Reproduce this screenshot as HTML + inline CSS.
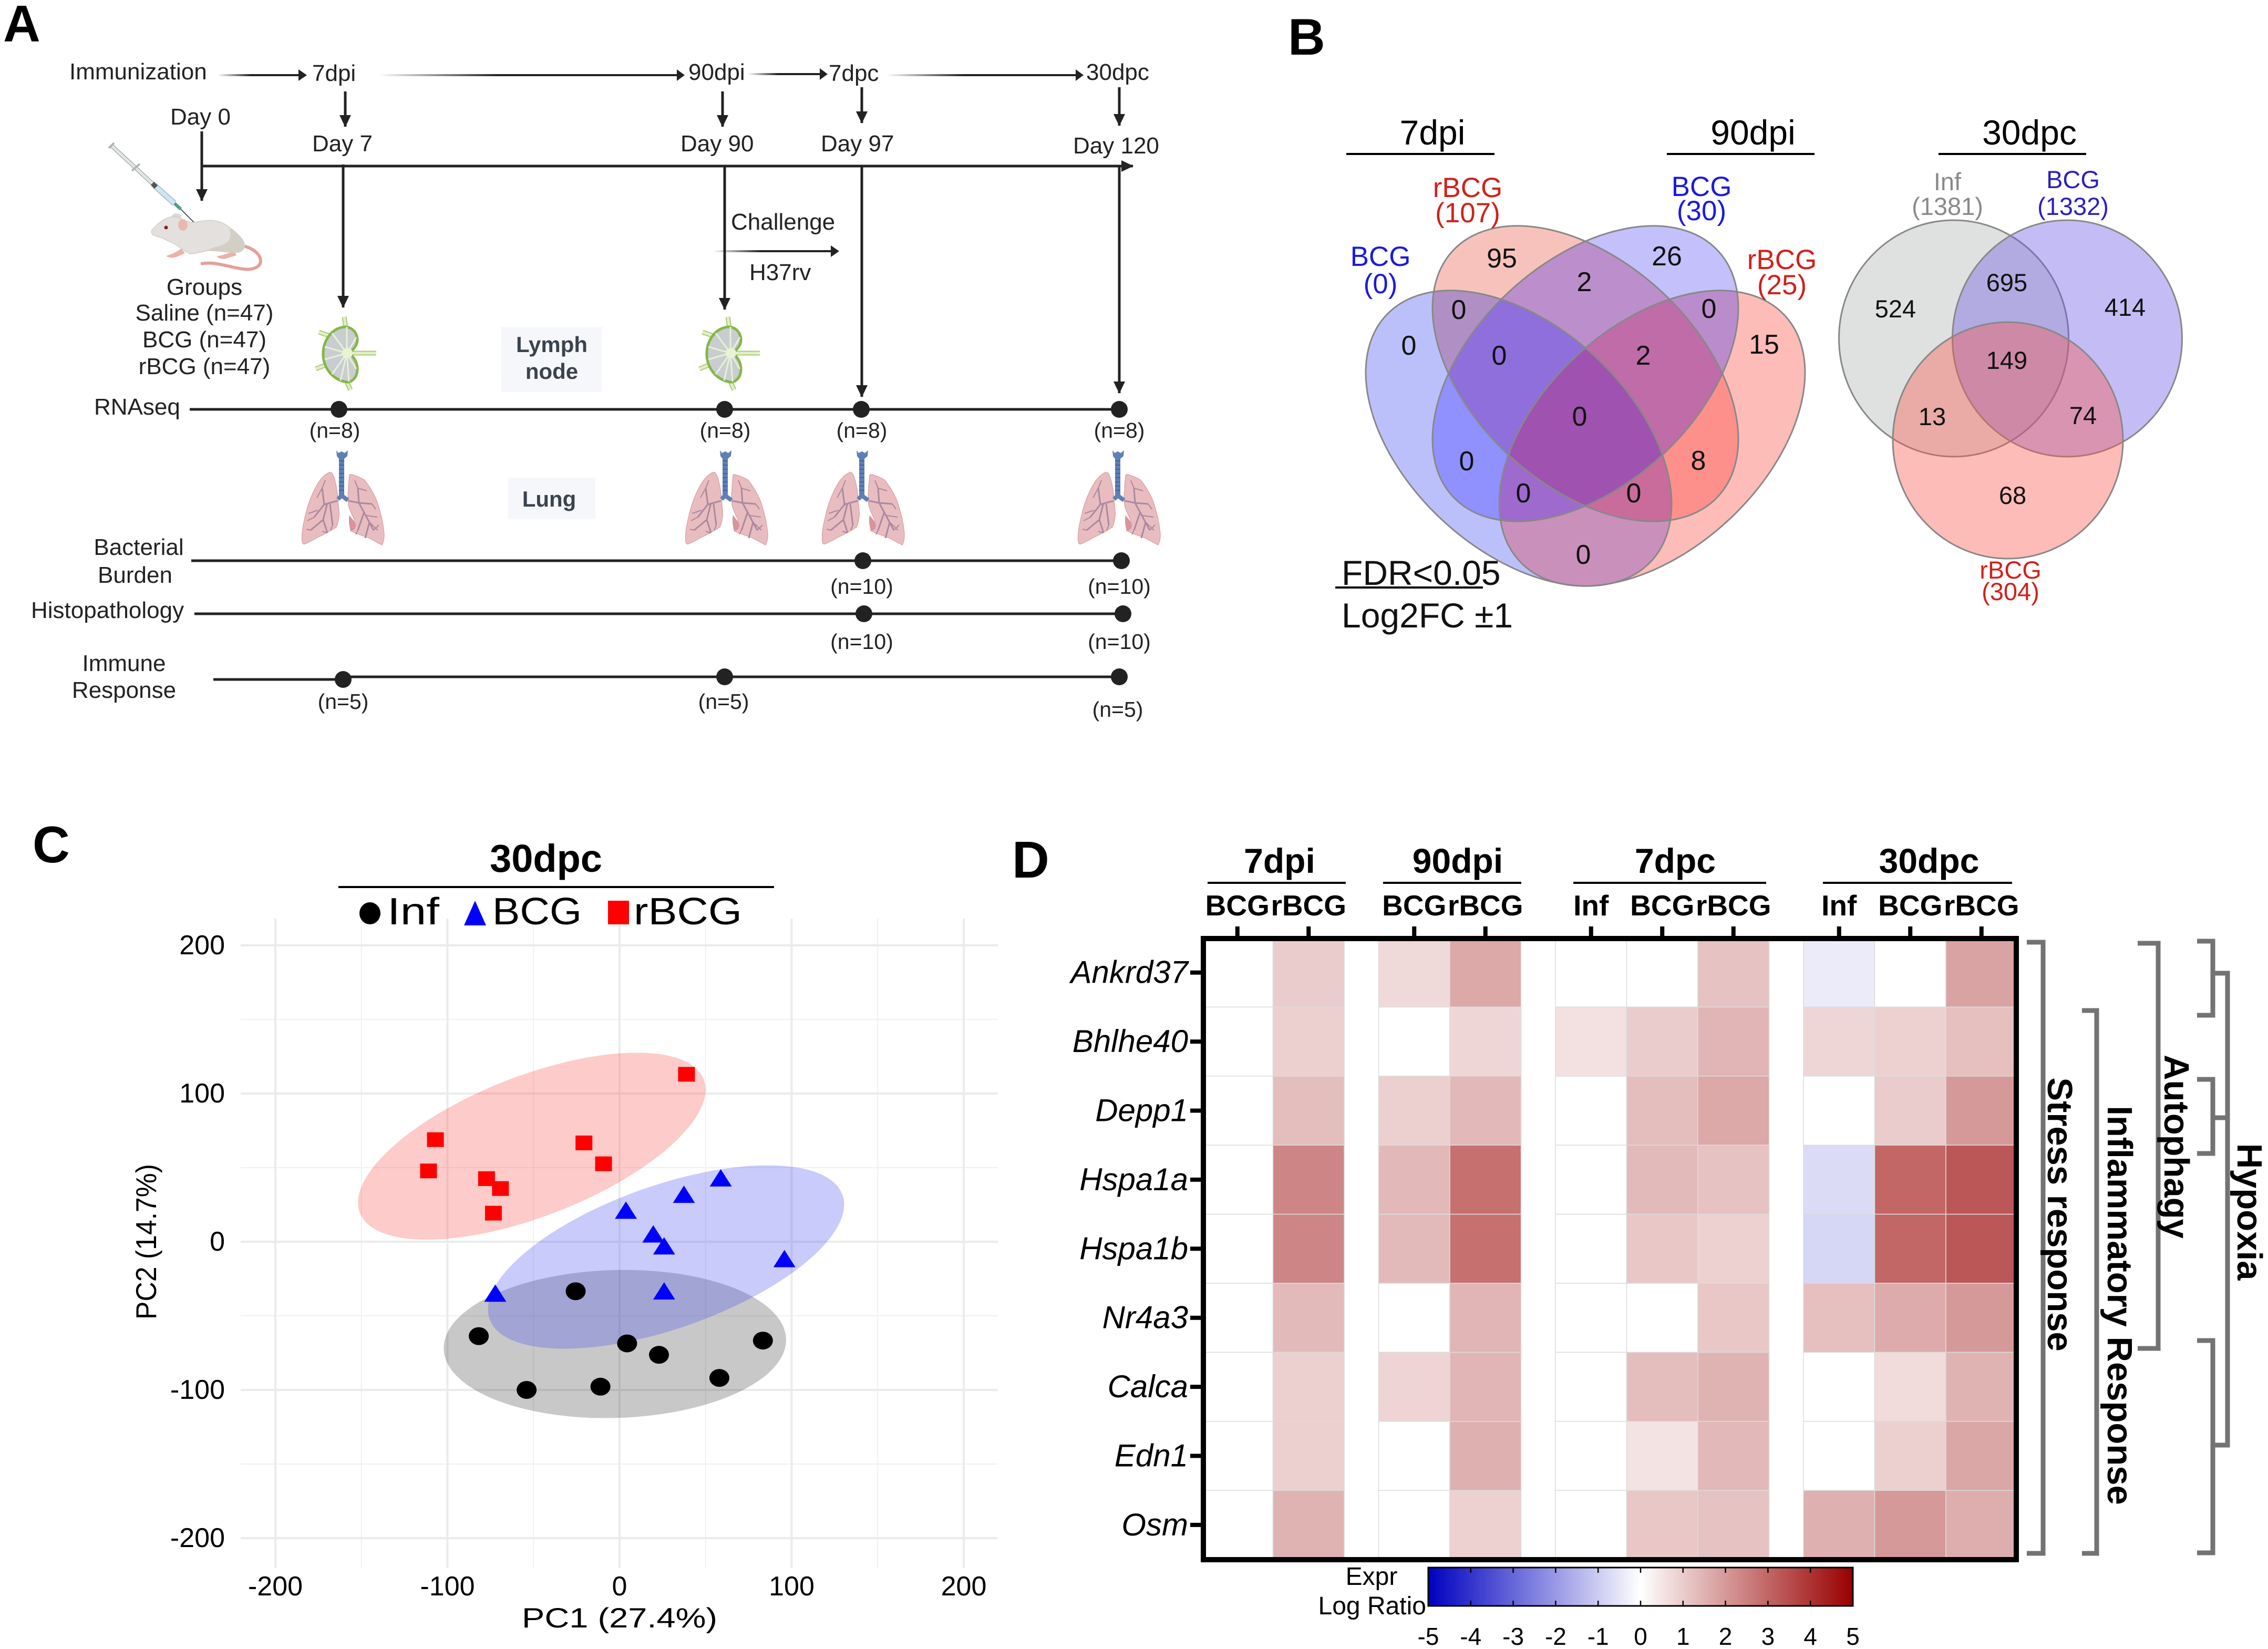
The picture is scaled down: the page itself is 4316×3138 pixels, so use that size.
<!DOCTYPE html>
<html lang="en">
<head>
<meta charset="utf-8">
<title>Immunization study figure</title>
<style>
html,body{margin:0;padding:0;background:#fff;}
svg{display:block;font-family:"Liberation Sans",sans-serif;}
.a{font-size:44px;fill:#222;}
.m{text-anchor:middle;}
.panel{font-size:98px;font-weight:bold;fill:#000;}
.v{font-size:52px;fill:#111;text-anchor:middle;}
.w{font-size:47px;fill:#111;text-anchor:middle;}
.t{font-size:66px;fill:#000;text-anchor:middle;}
.bl{stroke:#222;stroke-width:5;fill:none;}
.h{font-size:66px;font-weight:bold;fill:#000;text-anchor:middle;}
.side{font-size:67px;font-weight:bold;fill:#000;text-anchor:middle;}
.br{stroke:#737373;stroke-width:9;fill:none;}
</style>
</head>
<body>
<svg xmlns="http://www.w3.org/2000/svg" width="4316" height="3138" viewBox="0 0 4316 3138">
<defs>
<linearGradient id="fade" x1="0" x2="1" y1="0" y2="0"><stop offset="0" stop-color="#222" stop-opacity="0"/><stop offset="0.4" stop-color="#222"/><stop offset="1" stop-color="#222"/></linearGradient>
<linearGradient id="cbar" x1="0" x2="1" y1="0" y2="0"><stop offset="0" stop-color="#0000c0"/><stop offset="0.5" stop-color="#ffffff"/><stop offset="1" stop-color="#990000"/></linearGradient>
<marker id="ah2" markerWidth="26" markerHeight="26" refX="23" refY="13" orient="auto" markerUnits="userSpaceOnUse"><path d="M1,2L24,13L1,24Z" fill="#222"/></marker>
<clipPath id="c1"><ellipse cx="2890" cy="834" rx="344" ry="213" transform="rotate(42.8 2890 834)"/></clipPath>
<clipPath id="c2"><ellipse cx="3017" cy="711" rx="344" ry="213" transform="rotate(42.8 3017 711)"/></clipPath>
<clipPath id="c3"><ellipse cx="3017" cy="711" rx="344" ry="213" transform="rotate(-42.8 3017 711)"/></clipPath>
<clipPath id="c4"><ellipse cx="3144" cy="834" rx="344" ry="213" transform="rotate(-42.8 3144 834)"/></clipPath>
<g id="lung-icon">
<path d="M-26,40C-36,44 -44,54 -50,64C-60,82 -66,98 -70,114C-75,135 -80,155 -78,171C-78,175 -76,177 -73,176C-62,172 -52,165 -43,161C-33,156 -22,150 -13,144C-9,134 -7,124 -8,114C-9,102 -10,92 -11,81C-12,70 -14,62 -16,54C-18,46 -22,38 -26,40Z" fill="#e9bcc0" stroke="#dca6ab" stroke-width="1.5"/>
<path d="M15,44C24,46 33,50 40,54C50,66 58,80 64,94C70,112 75,130 77,148C79,160 78,170 74,178C66,174 56,168 47,164C36,160 24,156 14,151C17,144 20,138 22,131C18,122 12,112 10,101C9,92 9,82 10,74C10,64 11,56 12,48C12,45 13,43 15,44Z" fill="#e9bcc0" stroke="#dca6ab" stroke-width="1.5"/>
<path d="M12,121C16,128 24,134 24,140C24,146 20,152 14,151C11,140 10,130 12,121Z" fill="#d9949b"/>
<path d="M-11,94L-36,101L-55,125M-36,101L-40,70M-30,98L-38,130L-62,150M-38,130L-30,155M-25,100L-20,140M10,94L30,98L58,150M30,98L28,70M30,98L55,100M40,115L28,150M50,135L42,165" stroke="#a98a9e" stroke-width="3" fill="none"/>
<path d="M-40,70L-34,55M-40,70L-50,88M-48,112L-66,118M-55,125L-68,132M-62,150L-70,148M-20,140L-24,150M-30,155L-40,152M28,70L22,55M28,70L45,75M44,122L65,125M55,100L62,110M58,150L68,140M28,150L24,158M50,135L66,150" stroke="#a98a9e" stroke-width="2" fill="none"/>
<path d="M-13,-2L-9,3L-3,0L3,3L9,-2L8,9L2,14H-8L-12,9Z" fill="#5f80b5"/>
<rect x="-8" y="11" width="10" height="73" fill="#5f80b5"/>
<path d="M-8,18H2M-8,26H2M-8,34H2M-8,42H2M-8,50H2M-8,58H2M-8,66H2M-8,74H2" stroke="#3f5d90" stroke-width="1.5"/>
<path d="M-3,84L-10,91M-3,84L9,93" stroke="#5f80b5" stroke-width="8"/>
</g>
<g id="node-icon">
<path d="M-1,-69L2,-48M11,70L2,50M-49,-40L-26,-32M-55,30L-30,20M6,0L60,0" stroke="#a8cc70" stroke-width="9" fill="none"/>
<path d="M-1,-69L2,-48M11,70L2,50M-49,-40L-26,-32M-55,30L-30,20M6,0L60,0" stroke="#e2efc9" stroke-width="5" fill="none"/>
<path d="M2,-50C20,-48 28,-30 22,-16C18,-8 12,-4 10,0C14,6 24,14 24,30C24,48 12,56 4,55C-22,52 -42,28 -41,0C-41,-26 -22,-50 2,-50Z" fill="#c9cdcf" stroke="#84b64c" stroke-width="5"/>
<path d="M4,0L4,-50M4,0L-24,-38M4,0L-38,-12M4,0L-38,12M4,0L-24,40M4,0L-8,52M4,0L8,54M4,0L22,-30M4,0L22,30" stroke="#e6f0d8" stroke-width="3"/>
<circle cx="5" cy="0" r="10" fill="#e8f3d3"/>
</g>
</defs>

<!-- PANEL A -->
<g>
<text class="panel" x="6" y="79">A</text>
<text class="a" x="132" y="151">Immunization</text>
<rect x="414" y="141" width="160" height="4" fill="url(#fade)"/>
<path d="M568,132L584,143L568,154Z" fill="#222"/>
<text class="a" x="594" y="154">7dpi</text>
<rect x="719" y="141" width="575" height="4" fill="url(#fade)"/>
<path d="M1288,132L1303,143L1288,154Z" fill="#222"/>
<text class="a" x="1310" y="152">90dpi</text>
<rect x="1423" y="139" width="145" height="4" fill="url(#fade)"/>
<path d="M1560,130L1575,141L1560,152Z" fill="#222"/>
<text class="a" x="1577" y="154">7dpc</text>
<rect x="1687" y="141" width="368" height="4" fill="url(#fade)"/>
<path d="M2047,132L2062,143L2047,154Z" fill="#222"/>
<text class="a" x="2067" y="152">30dpc</text>

<g class="bl">
<path d="M657,174V241" marker-end="url(#ah2)"/><path d="M1375,174V241" marker-end="url(#ah2)"/><path d="M1640,166V234" marker-end="url(#ah2)"/><path d="M2130,166V239" marker-end="url(#ah2)"/>
</g>
<text class="a" x="324" y="237">Day 0</text>
<text class="a" x="594" y="288">Day 7</text>
<text class="a" x="1295" y="288">Day 90</text>
<text class="a" x="1562" y="288">Day 97</text>
<text class="a" x="2042" y="292">Day 120</text>

<path class="bl" d="M384,316H2156" marker-end="url(#ah2)"/>
<path class="bl" d="M384,250V382" marker-end="url(#ah2)"/>
<path class="bl" d="M653,313V585" marker-end="url(#ah2)"/>
<path class="bl" d="M1379,316V589" marker-end="url(#ah2)"/>
<path class="bl" d="M1640,316V755" marker-end="url(#ah2)"/>
<path class="bl" d="M2130,316V748" marker-end="url(#ah2)"/>

<text class="a" x="1391" y="437">Challenge</text>
<rect x="1357" y="476" width="230" height="4" fill="url(#fade)"/>
<path d="M1581,467L1597,478L1581,489Z" fill="#222"/>
<text class="a" x="1426" y="533">H37rv</text>

<g>
<path d="M212,277L294,353" stroke="#a9adad" stroke-width="8"/>
<path d="M212,277L294,353" stroke="#e4e6e6" stroke-width="5"/>
<path d="M207,282L217,272M251,325L266,312" stroke="#b0b4b4" stroke-width="4"/>
<path d="M294,353L332,387" stroke="#9db8c8" stroke-width="11"/>
<path d="M294,353L332,387" stroke="#cfe6f2" stroke-width="8"/>
<path d="M290,349L297,356" stroke="#555" stroke-width="9"/>
<path d="M332,387L344,398" stroke="#4a9e8c" stroke-width="6"/>
<path d="M344,398L369,423" stroke="#444" stroke-width="1.8"/>
</g>
<g>
<path d="M462,468C482,472 496,484 496,498C494,510 478,514 464,512C445,510 425,503 405,501C395,500 388,501 382,502" stroke="#e3a09a" stroke-width="6" fill="none"/>
<path d="M316,487C326,484 336,480 345,473L352,482L338,488C330,492 322,491 316,487Z" fill="#eab2a8"/>
<path d="M412,488C422,486 436,482 446,477L450,486L430,492C424,494 416,492 412,488Z" fill="#eab2a8"/>
<ellipse cx="336" cy="412" rx="9" ry="6" fill="#ddd9d2"/>
<path d="M289,438C296,430 304,422 312,418C322,412 332,410 345,416C352,420 360,424 369,423C382,421 396,418 409,420C420,422 430,427 437,433C448,441 456,448 462,457C466,464 466,470 464,473C460,479 454,481 448,480C430,481 412,476 394,477C384,479 372,483 362,483C352,479 344,472 337,467C328,462 318,458 309,453C302,451 296,449 291,447C288,444 288,441 289,438Z" fill="#e3e0de" stroke="#d2cec6" stroke-width="1.5"/>
<path d="M437,433C448,441 456,448 462,457C466,464 466,470 464,473C460,479 454,481 448,480C430,481 412,476 394,477C405,468 425,470 435,458C440,450 438,440 437,433Z" fill="#d3cfc4"/>
<ellipse cx="348" cy="428" rx="9" ry="11" fill="#e8b9ae"/>
<circle cx="316" cy="433" r="3.5" fill="#8e1c1c"/>
</g>
<g class="a m">
<text x="389" y="561">Groups</text>
<text x="389" y="610">Saline (n=47)</text>
<text x="389" y="661">BCG (n=47)</text>
<text x="389" y="712">rBCG (n=47)</text>
</g>

<use href="#node-icon" x="656" y="672"/>
<use href="#node-icon" x="1386" y="672"/>
<rect x="954" y="622" width="192" height="124" fill="#f5f7fb"/>
<text class="a m" x="1050" y="670" style="font-weight:bold;fill:#3a4350;font-size:42px">Lymph</text>
<text class="a m" x="1050" y="721" style="font-weight:bold;fill:#3a4350;font-size:42px">node</text>

<text class="a" x="179" y="789">RNAseq</text>
<path class="bl" d="M361,779H2130"/>
<g fill="#222"><circle cx="645" cy="779" r="16"/><circle cx="1379" cy="779" r="16"/><circle cx="1639" cy="779" r="16"/><circle cx="2130" cy="779" r="16"/></g>
<g class="a m" style="font-size:41px"><text x="637" y="833">(n=8)</text><text x="1380" y="833">(n=8)</text><text x="1640" y="833">(n=8)</text><text x="2130" y="833">(n=8)</text></g>

<use href="#lung-icon" x="653" y="859"/>
<use href="#lung-icon" x="1383" y="859"/>
<use href="#lung-icon" x="1643" y="859"/>
<use href="#lung-icon" x="2130" y="859"/>
<rect x="967" y="909" width="166" height="79" fill="#f5f7fb"/>
<text class="a m" x="1045" y="964" style="font-weight:bold;fill:#3a4350;font-size:42px">Lung</text>

<text class="a m" x="264" y="1056">Bacterial</text>
<text class="a m" x="257" y="1109">Burden</text>
<path class="bl" d="M364,1067H2134"/>
<g fill="#222"><circle cx="1642" cy="1067" r="16"/><circle cx="2134" cy="1067" r="16"/></g>
<g class="a m" style="font-size:41px"><text x="1640" y="1130">(n=10)</text><text x="2130" y="1130">(n=10)</text></g>

<text class="a" x="59" y="1176">Histopathology</text>
<path class="bl" d="M370,1168H2137"/>
<g fill="#222"><circle cx="1644" cy="1168" r="16"/><circle cx="2137" cy="1168" r="16"/></g>
<g class="a m" style="font-size:41px"><text x="1640" y="1235">(n=10)</text><text x="2130" y="1235">(n=10)</text></g>

<text class="a m" x="236" y="1277">Immune</text>
<text class="a m" x="236" y="1328">Response</text>
<path class="bl" d="M406,1293H653M653,1288H2130"/>
<g fill="#222"><circle cx="653" cy="1293" r="16"/><circle cx="1379" cy="1288" r="16"/><circle cx="2130" cy="1288" r="16"/></g>
<g class="a m" style="font-size:41px"><text x="653" y="1349">(n=5)</text><text x="1377" y="1349">(n=5)</text><text x="2127" y="1364">(n=5)</text></g>
</g>

<!-- PANEL B -->
<g>
<text class="panel" x="2451" y="104">B</text>
<text class="t" x="2726" y="275">7dpi</text>
<text class="t" x="3336" y="275">90dpi</text>
<text class="t" x="3862" y="275">30dpc</text>
<path d="M2562,293H2844M3172,293H3453M3689,293H3970" stroke="#000" stroke-width="4"/>

<g>
<g>
<ellipse cx="2890" cy="834" rx="344" ry="213" transform="rotate(42.8 2890 834)" fill="#bcc0fa"/>
<ellipse cx="3144" cy="834" rx="344" ry="213" transform="rotate(-42.8 3144 834)" fill="#fdbcb8"/>
<ellipse cx="3017" cy="711" rx="344" ry="213" transform="rotate(42.8 3017 711)" fill="#f8c2bc"/>
<ellipse cx="3017" cy="711" rx="344" ry="213" transform="rotate(-42.8 3017 711)" fill="#c3c0fb"/>
</g>
<g>
<g clip-path="url(#c1)"><rect x="2500" y="350" width="1000" height="800" fill="#fff" fill-opacity="0"/>
  <g clip-path="url(#c2)"><rect x="2500" y="350" width="1000" height="800" fill="#b090c4"/></g>
  <g clip-path="url(#c3)"><rect x="2500" y="350" width="1000" height="800" fill="#9090ff"/></g>
  <g clip-path="url(#c4)"><rect x="2500" y="350" width="1000" height="800" fill="#ca90bc"/></g>
</g>
<g clip-path="url(#c2)">
  <g clip-path="url(#c3)"><rect x="2500" y="350" width="1000" height="800" fill="#bc8fcc"/></g>
  <g clip-path="url(#c4)"><rect x="2500" y="350" width="1000" height="800" fill="#fd908a"/></g>
</g>
<g clip-path="url(#c3)"><g clip-path="url(#c4)"><rect x="2500" y="350" width="1000" height="800" fill="#bb8ccb"/></g></g>
<g clip-path="url(#c1)"><g clip-path="url(#c2)"><g clip-path="url(#c3)"><rect x="2500" y="350" width="1000" height="800" fill="#8f6fdb"/></g></g></g>
<g clip-path="url(#c1)"><g clip-path="url(#c2)"><g clip-path="url(#c4)"><rect x="2500" y="350" width="1000" height="800" fill="#c96c9c"/></g></g></g>
<g clip-path="url(#c1)"><g clip-path="url(#c3)"><g clip-path="url(#c4)"><rect x="2500" y="350" width="1000" height="800" fill="#9f6acd"/></g></g></g>
<g clip-path="url(#c2)"><g clip-path="url(#c3)"><g clip-path="url(#c4)"><rect x="2500" y="350" width="1000" height="800" fill="#c06ca8"/></g></g></g>
<g clip-path="url(#c1)"><g clip-path="url(#c2)"><g clip-path="url(#c3)"><g clip-path="url(#c4)"><rect x="2500" y="350" width="1000" height="800" fill="#a052b0"/></g></g></g></g>
</g>
<g fill="none" stroke="#888" stroke-width="3">
<ellipse cx="2890" cy="834" rx="344" ry="213" transform="rotate(42.8 2890 834)"/>
<ellipse cx="3144" cy="834" rx="344" ry="213" transform="rotate(-42.8 3144 834)"/>
<ellipse cx="3017" cy="711" rx="344" ry="213" transform="rotate(42.8 3017 711)"/>
<ellipse cx="3017" cy="711" rx="344" ry="213" transform="rotate(-42.8 3017 711)"/>
</g>
</g>
<g>
<text class="v" x="2858" y="509">95</text><text class="v" x="3172" y="505">26</text><text class="v" x="2681" y="675">0</text><text class="v" x="2776" y="607">0</text><text class="v" x="3015" y="554">2</text><text class="v" x="3252" y="605">0</text><text class="v" x="3357" y="673">15</text><text class="v" x="2853" y="694">0</text><text class="v" x="3127" y="694">2</text><text class="v" x="3006" y="810">0</text><text class="v" x="2791" y="895">0</text><text class="v" x="3232" y="894">8</text><text class="v" x="2899" y="956">0</text><text class="v" x="3109" y="956">0</text><text class="v" x="3013" y="1073">0</text>
</g>
<g style="font-size:53px;text-anchor:middle">
<g fill="#1a1ae0"><text x="2627" y="506">BCG</text><text x="2627" y="558">(0)</text></g>
<g fill="#d2201a"><text x="2793" y="375">rBCG</text><text x="2793" y="423">(107)</text></g>
<g fill="#1a1ae0"><text x="3238" y="373">BCG</text><text x="3238" y="419">(30)</text></g>
<g fill="#d2201a"><text x="3391" y="512">rBCG</text><text x="3391" y="560">(25)</text></g>
</g>

<g stroke="#888" stroke-width="3" fill-opacity="0.4">
<ellipse cx="3718" cy="644" rx="218.5" ry="225" fill="rgb(175,180,177)"/>
<ellipse cx="3934" cy="644" rx="218.5" ry="225" fill="rgb(107,90,230)"/>
<ellipse cx="3821" cy="838" rx="219" ry="225" fill="rgb(250,87,77)"/>
</g>
<g>
<text class="w" x="3607" y="604">524</text><text class="w" x="3819" y="554">695</text><text class="w" x="4044" y="601">414</text><text class="w" x="3819" y="702">149</text><text class="w" x="3677" y="809">13</text><text class="w" x="3964" y="807">74</text><text class="w" x="3830" y="959">68</text>
</g>
<g style="font-size:47px;text-anchor:middle">
<g fill="#8a8a8a"><text x="3706" y="362">Inf</text><text x="3706" y="409">(1381)</text></g>
<g fill="#2a1fc0"><text x="3945" y="358">BCG</text><text x="3945" y="409">(1332)</text></g>
<g fill="#d2201a"><text x="3826" y="1101">rBCG</text><text x="3826" y="1142">(304)</text></g>
</g>
<text x="2553" y="1113" font-size="66" fill="#111">FDR&lt;0.05</text>
<path d="M2541,1118H2822" stroke="#000" stroke-width="4"/>
<text x="2553" y="1194" font-size="66" fill="#111">Log2FC ±1</text>
</g>

<!-- PANEL C -->
<g>
<text class="panel" x="62" y="1641">C</text>
<text x="1039" y="1659" font-size="74" font-weight="bold" text-anchor="middle">30dpc</text>
<path d="M644,1688H1473" stroke="#000" stroke-width="4"/>
<g id="pca-grid"></g>
<g id="pca-ellipses"></g>
<g id="pca-points"></g>
<g id="pca-ticks"></g>
<g>
<ellipse cx="704" cy="1738" rx="20" ry="21" fill="#000"/>
<text x="737" y="1759" font-size="72" textLength="99" lengthAdjust="spacingAndGlyphs">Inf</text>
<path d="M904,1714L925,1761H883Z" fill="#0000ff"/>
<text x="937" y="1759" font-size="72" textLength="170" lengthAdjust="spacingAndGlyphs">BCG</text>
<rect x="1157" y="1714" width="40" height="45" fill="#ff0000"/>
<text x="1206" y="1759" font-size="72" textLength="206" lengthAdjust="spacingAndGlyphs">rBCG</text>
</g>
<text x="1179" y="3097" font-size="53" text-anchor="middle" textLength="372" lengthAdjust="spacingAndGlyphs">PC1 (27.4%)</text>
<text transform="translate(297,2363) rotate(-90)" font-size="55" text-anchor="middle" textLength="296" lengthAdjust="spacingAndGlyphs">PC2 (14.7%)</text>
</g>

<!-- PANEL D -->
<g>
<text class="panel" x="1926" y="1670">D</text>
<text class="h" x="2435" y="1661">7dpi</text>
<text class="h" x="2774" y="1661">90dpi</text>
<text class="h" x="3188" y="1661">7dpc</text>
<text class="h" x="3671" y="1661">30dpc</text>
<path d="M2298,1680H2561M2632,1680H2895M2994,1680H3361M3469,1680H3829" stroke="#000" stroke-width="4"/>
<g id="heat-cells"></g>
<rect x="2290" y="1786" width="1547" height="1182" fill="none" stroke="#000" stroke-width="10"/>
<g id="heat-labels"></g>

<g>
<path class="br" d="M3857,1793H3888V2956H3857"/>
<text class="side" transform="translate(3897,2311) rotate(90)">Stress response</text>
<path class="br" d="M3962,1923H3990V2956H3962"/>
<text class="side" transform="translate(4011,2484) rotate(90)">Inflammatory Response</text>
<path class="br" d="M4068,1795H4107V2566H4068"/>
<text class="side" transform="translate(4119,2182) rotate(90)">Autophagy</text>
<path class="br" d="M4181,1791H4211V1932H4181"/>
<path class="br" d="M4181,2054H4211V2195H4181"/>
<path class="br" d="M4181,2551H4211V2955H4181"/>
<path class="br" d="M4211,1852H4239V2750H4211M4211,2127H4239"/>
<text class="side" transform="translate(4258,2306) rotate(90)">Hypoxia</text>
</g>

<text x="2610" y="3016" font-size="48" text-anchor="middle">Expr</text>
<text x="2714" y="3072" font-size="48" text-anchor="end">Log Ratio</text>
<rect x="2718" y="2983" width="808" height="73" fill="url(#cbar)" stroke="#000" stroke-width="3"/>
<g id="cbar-ticks"></g>
</g>
</svg>

<script>
// PCA data
const xTicks = [-200, -100, 0, 100, 200];
const yTicks = [-200, -100, 0, 100, 200];
const minorTicks = [-150, -50, 50, 150];
const infPC1 = [-25.5, -81.8, 4.4, 22.9, 83.3, 58, -11.1, -54];
const infPC2 = [-33.4, -63.7, -68.6, -76.3, -66.7, -91.9, -97.8, -100];
const bcgPC1 = [58.8, 37.4, 3.7, 19.6, 25.9, 95.8, 25.9, -72.2];
const bcgPC2 = [42.6, 31.5, 20.8, 4.8, -3.3, -11.9, -33.7, -35.2];
const rbcgPC1 = [38.9, -107, -111, -77.3, -69.2, -73.3, -20.7, -9.3];
const rbcgPC2 = [113, 68.9, 47.8, 42.6, 35.9, 19.3, 66.7, 52.6];
// ellipse summaries: centre, half-width, half-height, correlation (data units)
const ellipseInf = [-2.7, -69, 99.5, 50, 0.055];
const ellipseBcg = [27, -10.3, 103.5, 61.9, 0.572];
const ellipseRbcg = [-51, 64.5, 101, 63.1, 0.604];

// Heatmap data
const genes = ['Ankrd37','Bhlhe40','Depp1','Hspa1a','Hspa1b','Nr4a3','Calca','Edn1','Osm'];
const columnLabels = ['BCG','rBCG','BCG','rBCG','Inf','BCG','rBCG','Inf','BCG','rBCG'];
const columnGroups = [0,0,1,1,2,2,2,3,3,3];
const rowAnkrd37 = [0,1.0,0.75,1.7,0,0,1.2,-0.4,0,1.8];
const rowBhlhe40 = [0,0.95,0,0.8,0.6,1.0,1.45,0.8,0.9,1.25];
const rowDepp1 = [0,1.3,0.95,1.4,0,1.3,1.7,0,1.0,2.0];
const rowHspa1a = [0,2.4,1.4,2.8,0,1.35,1.2,-0.7,3.0,3.3];
const rowHspa1b = [0,2.4,1.35,2.8,0,1.1,0.9,-0.8,3.0,3.3];
const rowNr4a3 = [0,1.35,0,1.45,0,0,1.1,1.25,1.65,2.0];
const rowCalca = [0,0.95,0.85,1.45,0,1.3,1.5,0,0.7,1.5];
const rowEdn1 = [0,0.95,0,1.55,0,0.55,1.4,0,0.95,1.75];
const rowOsm = [0,1.5,0,0.9,0,1.1,1.2,1.55,2.0,1.6];
const heatValues = [rowAnkrd37,rowBhlhe40,rowDepp1,rowHspa1a,rowHspa1b,rowNr4a3,rowCalca,rowEdn1,rowOsm];
const colorbarTicks = [-5,-4,-3,-2,-1,0,1,2,3,4,5];

const NS = 'http://www.w3.org/2000/svg';
function mk(parentId, tag, attrs, txt) {
  const el = document.createElementNS(NS, tag);
  for (const k in attrs) el.setAttribute(k, attrs[k]);
  if (txt !== undefined) el.textContent = txt;
  document.getElementById(parentId).appendChild(el);
  return el;
}
const px = v => 1179 + 3.275 * v;
const py = v => 2363 - 2.82 * v;

// grid
minorTicks.forEach(t => {
  const a = mk('pca-grid','line',{x1:px(t),x2:px(t),y1:1748,y2:2984,stroke:'#f0f0f0','stroke-width':2});
  
  
  const b = mk('pca-grid','line',{y1:py(t),y2:py(t),x1:458,x2:1899,stroke:'#f0f0f0','stroke-width':2});
  
  
});
xTicks.forEach(t => {
  const g = mk('pca-grid','line',{x1:px(t),x2:px(t),y1:1748,y2:2984,stroke:'#ebebeb','stroke-width':4});
  
  
  const l = mk('pca-ticks','text',{x:px(t),y:3036,'font-size':52,'text-anchor':'middle'},String(t));
  
  
});
yTicks.forEach(t => {
  const g = mk('pca-grid','line',{y1:py(t),y2:py(t),x1:458,x2:1899,stroke:'#ebebeb','stroke-width':4});
  
  
  const l = mk('pca-ticks','text',{x:428,y:py(t)+17,'font-size':52,'text-anchor':'end'},String(t));
  
  
});

// ellipses
function ellipsePath(e) {
  const pts = [];
  const s = Math.sqrt(1 - e[4] * e[4]);
  for (let i = 0; i < 96; i++) {
    const t = i / 96 * 2 * Math.PI;
    const dx = e[0] + e[2] * Math.cos(t);
    const dy = e[1] + e[3] * (e[4] * Math.cos(t) + s * Math.sin(t));
    pts.push(px(dx).toFixed(1) + ',' + py(dy).toFixed(1));
  }
  return 'M' + pts.join('L') + 'Z';
}
const e1 = mk('pca-ellipses','path',{d:ellipsePath(ellipseInf),fill:'#000','fill-opacity':0.215});


const e2 = mk('pca-ellipses','path',{d:ellipsePath(ellipseBcg),fill:'rgb(75,82,242)','fill-opacity':0.3});


const e3 = mk('pca-ellipses','path',{d:ellipsePath(ellipseRbcg),fill:'rgb(248,82,75)','fill-opacity':0.3});



// points
infPC1.forEach((v, i) => {
  const c = mk('pca-points','ellipse',{cx:px(v),cy:py(infPC2[i]),rx:19,ry:17,fill:'#000'});
  
  
});
bcgPC1.forEach((v, i) => {
  const x = px(v), y = py(bcgPC2[i]);
  const c = mk('pca-points','path',{d:`M${x},${y-18}L${x+21},${y+15}H${x-21}Z`,fill:'#0000ff'});
  
  
});
rbcgPC1.forEach((v, i) => {
  const c = mk('pca-points','rect',{x:px(v)-16,y:py(rbcgPC2[i])-14,width:32,height:28,fill:'#ff0000'});
  
  
});

// heatmap
const colW = 135.5, rowH = 131.4, gapW = 65.5, x0 = 2287, y0 = 1785;
const colX = i => x0 + i * colW + columnGroups[i] * gapW;
const rowY = r => y0 + r * rowH;
function heatColor(v) {
  const f = Math.min(1, Math.abs(v) / 5);
  if (v >= 0) return `rgb(${Math.round(255 - 102 * f)},${Math.round(255 * (1 - f))},${Math.round(255 * (1 - f))})`;
  return `rgb(${Math.round(255 * (1 - f))},${Math.round(255 * (1 - f))},${Math.round(255 - 63 * f)})`;
}
heatValues.forEach((row, r) => {
  row.forEach((v, c) => {
    const cell = mk('heat-cells','rect',{x:colX(c),y:rowY(r),width:colW,height:rowH,fill:heatColor(v),stroke:'#dcdcdc','stroke-width':1.5});
    
    
  });
});
genes.forEach((g, r) => {
  const cy = rowY(r) + rowH / 2;
  const t = mk('heat-labels','text',{x:2261,y:cy+20,'font-size':60,'font-style':'italic','text-anchor':'end'},g);
  
  
  const k = mk('heat-labels','line',{x1:2265,x2:2287,y1:cy,y2:cy,stroke:'#000','stroke-width':8});
  
  
});
columnLabels.forEach((l, c) => {
  const cx = colX(c) + colW / 2;
  const t = mk('heat-labels','text',{x:cx,y:1742,'font-size':55,'font-weight':'bold','text-anchor':'middle'},l);
  
  
  const k = mk('heat-labels','line',{x1:cx,x2:cx,y1:1763,y2:1785,stroke:'#000','stroke-width':8});
  
  
});

// colorbar ticks
const cbx = v => 3122 + 80.8 * v;
colorbarTicks.forEach(v => {
  const a = mk('cbar-ticks','path',{d:`M${cbx(v)},2983v10M${cbx(v)},3056v-10`,stroke:'#000','stroke-width':2.5});
  
  
  const t = mk('cbar-ticks','text',{x:cbx(v),y:3130,'font-size':46,'text-anchor':'middle'},String(v));
  
  
});
</script>
</body>
</html>
